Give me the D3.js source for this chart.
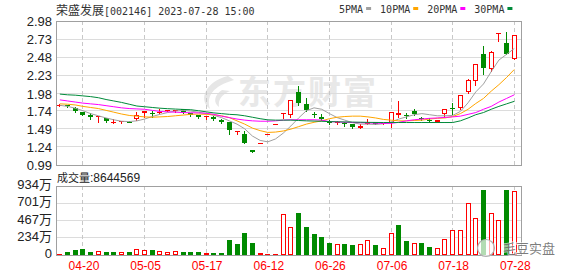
<!DOCTYPE html>
<html>
<head>
<meta charset="utf-8">
<script src="https://cdn.jsdelivr.net/npm/d3@7"></script>
<style>
  body { margin: 0; background: #fff; }
</style>
</head>
<body>
<div id="chart"></div>
<script>
// ---- data ----
var dates = ["04-17","04-18","04-19","04-20","04-21","04-24","04-25","04-26","04-27","04-28",
             "05-04","05-05","05-08","05-09","05-10","05-11","05-12","05-15","05-16","05-17",
             "05-18","05-19","05-22","05-23","05-24","05-25","06-09","06-12","06-13","06-14",
             "06-15","06-16","06-19","06-20","06-21","06-26","06-27","06-28","06-29","06-30",
             "07-03","07-04","07-05","07-06","07-07","07-10","07-11","07-12","07-13","07-14",
             "07-17","07-18","07-19","07-20","07-21","07-24","07-25","07-26","07-27","07-28"];

var openP  = [1.815,1.815,1.78,1.72,1.675,1.65,1.64,1.585,1.585,1.59,
              1.63,1.715,1.715,1.715,1.735,1.745,1.76,1.71,1.68,1.66,
              1.66,1.615,1.58,1.45,1.42,1.20,1.29,1.42,1.56,1.70,
              1.685,2.00,1.83,1.69,1.65,1.59,1.575,1.57,1.55,1.50,
              1.56,1.58,1.56,1.57,1.68,1.68,1.73,1.645,1.61,1.59,
              1.70,1.78,1.78,2.00,2.15,2.52,2.31,2.81,2.67,2.46];
var highP  = [1.835,1.82,1.785,1.725,1.71,1.665,1.645,1.625,1.60,1.595,
              1.72,1.735,1.73,1.765,1.75,1.755,1.765,1.715,1.685,1.665,
              1.665,1.62,1.59,1.465,1.46,1.20,1.29,1.42,1.56,1.715,
              1.885,2.08,1.92,1.72,1.70,1.61,1.60,1.59,1.56,1.55,
              1.63,1.585,1.575,1.725,1.88,1.715,1.77,1.66,1.64,1.61,
              1.765,1.85,1.96,2.175,2.39,2.63,2.56,2.81,2.83,2.78];
var lowP   = [1.80,1.795,1.725,1.675,1.63,1.58,1.58,1.565,1.575,1.58,
              1.61,1.66,1.65,1.715,1.73,1.72,1.715,1.67,1.645,1.625,
              1.615,1.575,1.42,1.42,1.29,1.17,1.29,1.42,1.56,1.64,
              1.66,1.82,1.74,1.65,1.61,1.56,1.55,1.525,1.50,1.495,
              1.55,1.55,1.555,1.52,1.65,1.64,1.68,1.615,1.58,1.58,
              1.66,1.70,1.77,1.985,2.09,2.25,2.29,2.70,2.52,2.45];
var closeP = [1.82,1.805,1.73,1.68,1.66,1.665,1.60,1.59,1.595,1.585,
              1.68,1.73,1.705,1.72,1.745,1.755,1.72,1.675,1.65,1.665,
              1.62,1.58,1.47,1.465,1.30,1.17,1.29,1.42,1.56,1.715,
              1.885,1.85,1.75,1.68,1.62,1.585,1.59,1.56,1.51,1.535,
              1.58,1.555,1.57,1.72,1.71,1.67,1.69,1.64,1.60,1.605,
              1.76,1.775,1.955,2.17,2.385,2.33,2.555,2.81,2.53,2.78];
// volume in 万 shares
var volume = [20,34,70,75,43,52,43,43,34,43,
              84,70,61,52,34,52,43,43,35,25,
              30,30,197,143,301,166,30,20,15,560,
              383,563,378,278,242,156,152,143,129,143,
              197,129,98,301,400,187,166,166,106,88,
              210,333,333,709,496,876,573,473,876,864.4569];

var ma5  = [1.815,1.80,1.775,1.74,1.70,1.67,1.64,1.615,1.595,1.59,
            1.60,1.625,1.66,1.69,1.715,1.735,1.745,1.735,1.72,1.70,
            1.675,1.645,1.60,1.555,1.49,1.39,1.33,1.31,1.35,1.43,
            1.53,1.64,1.74,1.78,1.76,1.70,1.645,1.61,1.575,1.555,
            1.555,1.55,1.56,1.585,1.625,1.655,1.685,1.70,1.685,1.67,
            1.67,1.675,1.73,1.85,2.00,2.11,2.28,2.44,2.52,2.60];
var ma10 = [1.835,1.83,1.82,1.80,1.785,1.77,1.745,1.72,1.695,1.675,
            1.665,1.655,1.65,1.655,1.66,1.67,1.68,1.69,1.694,1.69,
            1.684,1.67,1.645,1.60,1.555,1.50,1.465,1.44,1.445,1.46,
            1.486,1.52,1.555,1.58,1.60,1.63,1.65,1.66,1.665,1.665,
            1.655,1.64,1.62,1.61,1.60,1.60,1.605,1.61,1.625,1.635,
            1.64,1.66,1.70,1.76,1.84,1.91,2.01,2.10,2.20,2.31];
var ma20 = [1.89,1.875,1.86,1.845,1.835,1.825,1.81,1.795,1.78,1.77,
            1.765,1.76,1.745,1.73,1.725,1.72,1.715,1.712,1.71,1.705,
            1.69,1.665,1.645,1.625,1.61,1.60,1.595,1.595,1.60,1.61,
            1.615,1.615,1.615,1.615,1.61,1.59,1.585,1.58,1.578,1.575,
            1.572,1.568,1.565,1.565,1.58,1.60,1.615,1.625,1.635,1.64,
            1.648,1.655,1.665,1.69,1.715,1.76,1.80,1.86,1.91,1.96];
var ma30 = [1.97,1.96,1.955,1.945,1.935,1.92,1.895,1.875,1.855,1.83,
            1.805,1.795,1.785,1.775,1.768,1.763,1.758,1.754,1.74,1.725,
            1.71,1.70,1.69,1.684,1.67,1.65,1.63,1.614,1.61,1.61,
            1.61,1.605,1.60,1.597,1.594,1.59,1.587,1.585,1.583,1.581,
            1.579,1.578,1.577,1.577,1.577,1.577,1.577,1.577,1.577,1.577,
            1.577,1.577,1.60,1.64,1.685,1.715,1.76,1.80,1.835,1.87];

var priceTicks = [0.99,1.24,1.49,1.74,1.98,2.23,2.48,2.73,2.98];
var volTicks = [0,234,467,701,934];
var dateTicks = ["04-20","05-05","05-17","06-12","06-26","07-06","07-18","07-28"];

// ---- layout ----
var W = 578, H = 276;
var L = 56, R = 522, PT = 21, PB = 165, VT = 186, VB = 255;
var UP = "#ff0000", DOWN = "#008a00", GRID = "#dcdcdc", BORDER = "#a0a0a0";
var NUM_FONT = "'Liberation Sans', Arial, sans-serif";
var CJK_FONT = "'Noto Sans CJK SC', sans-serif";
var MONO_FONT = "'DejaVu Sans Mono', monospace";

function crisp(v) { return Math.floor(v) + 0.5; }

var svg = d3.select("#chart").append("svg")
    .attr("width", W).attr("height", H)
    .style("background", "#fff");

var x = d3.scaleLinear().domain([-0.5, dates.length]).range([L, R]);
var y = d3.scaleLinear().domain([0.99, 2.98]).range([PB, PT]);
var yv = d3.scaleLinear().domain([0, 934]).range([VB, VT]);

var data = dates.map(function (d, i) {
    return { i: i, date: d, o: openP[i], h: highP[i], l: lowP[i], c: closeP[i],
             v: volume[i], prev: i ? closeP[i - 1] : openP[i] };
});
function candleUp(d) { return d.c > d.o || (d.c === d.o && d.c >= d.prev); }
function volUp(d) { return d.i === 0 ? candleUp(d) : d.c >= d.prev; }

var tickIdx = dateTicks.map(function (t) { return dates.indexOf(t); });

// ---- watermark ----
svg.append("path")
    .attr("d", "M228,76 C207,81 197,99 210,109 C206,96 213,86 234,80 Z M222,90 C214,95 213,103 219,107 C218,100 221,95 230,91 Z")
    .attr("fill", "#e6e6e6");
svg.append("text")
    .attr("x", 238).attr("y", 104)
    .attr("font-family", CJK_FONT).attr("font-size", 33).attr("font-weight", "bold")
    .attr("letter-spacing", 2)
    .attr("fill", "#e8e8e8")
    .text("东方财富");

// ---- grid ----
var grid = svg.append("g");
grid.selectAll(".hp").data(priceTicks.slice(1, -1)).enter().append("line")
    .attr("x1", L).attr("x2", R)
    .attr("y1", function (d) { return crisp(y(d)); })
    .attr("y2", function (d) { return crisp(y(d)); })
    .attr("stroke", GRID);
grid.selectAll(".hv").data(volTicks.slice(1, -1)).enter().append("line")
    .attr("x1", L).attr("x2", R)
    .attr("y1", function (d) { return crisp(yv(d)); })
    .attr("y2", function (d) { return crisp(yv(d)); })
    .attr("stroke", GRID);
[[PT, PB], [VT, VB]].forEach(function (p) {
    grid.append("g").selectAll("line").data(tickIdx).enter().append("line")
        .attr("x1", function (d) { return crisp(x(d)); })
        .attr("x2", function (d) { return crisp(x(d)); })
        .attr("y1", p[0]).attr("y2", p[1])
        .attr("stroke", "#c8c8c8")
        .attr("stroke-dasharray", "4,3");
});

// ---- candles ----
var cg = svg.append("g");
data.forEach(function (d) {
    var xi = Math.floor(x(d.i));
    var col = candleUp(d) ? UP : DOWN;
    var top = Math.round(y(Math.max(d.o, d.c)));
    var bot = Math.round(y(Math.min(d.o, d.c)));
    // wick
    cg.append("line")
        .attr("x1", xi + 0.5).attr("x2", xi + 0.5)
        .attr("y1", Math.round(y(d.h))).attr("y2", Math.round(y(d.l)) + 1)
        .attr("stroke", col);
    if (d.c > d.o && bot - top >= 3) {
        cg.append("rect")
            .attr("x", xi - 1.5).attr("y", top + 0.5)
            .attr("width", 4).attr("height", bot - top - 1)
            .attr("fill", "#fff").attr("stroke", col);
    } else {
        cg.append("rect")
            .attr("x", xi - 2).attr("y", top)
            .attr("width", 5).attr("height", Math.max(1, bot - top))
            .attr("fill", col);
    }
});

// ---- moving averages ----
svg.append("clipPath").attr("id", "pclip").append("rect")
    .attr("x", L).attr("y", PT).attr("width", R - L).attr("height", PB - PT);
var maSeries = [
    { name: "5PMA", values: ma5, color: "#a0a0a0" },
    { name: "10PMA", values: ma10, color: "#ffa500" },
    { name: "20PMA", values: ma20, color: "#ff00ff" },
    { name: "30PMA", values: ma30, color: "#008a3a" }
];
var line = d3.line()
    .x(function (d, i) { return x(i); })
    .y(function (d) { return y(d); });
svg.append("g").attr("clip-path", "url(#pclip)")
    .selectAll("path").data(maSeries).enter().append("path")
    .attr("d", function (s) { return line(s.values); })
    .attr("fill", "none")
    .attr("stroke", function (s) { return s.color; })
    .attr("stroke-width", 1);

// ---- volume bars ----
var vg = svg.append("g");
data.forEach(function (d) {
    var xi = Math.floor(x(d.i));
    var t = Math.round(yv(d.v));
    if (volUp(d) && VB - t >= 3) {
        vg.append("rect")
            .attr("x", xi - 1.5).attr("y", t + 0.5)
            .attr("width", 4).attr("height", VB - t - 1)
            .attr("fill", "#fff").attr("stroke", UP);
    } else {
        vg.append("rect")
            .attr("x", xi - 2).attr("y", t)
            .attr("width", 5).attr("height", Math.max(1, VB - t))
            .attr("fill", volUp(d) ? UP : DOWN);
    }
});

// ---- panel borders ----
[[PT, PB], [VT, VB]].forEach(function (p) {
    svg.append("rect")
        .attr("x", L + 0.5).attr("y", p[0] + 0.5)
        .attr("width", R - L - 1).attr("height", p[1] - p[0])
        .attr("fill", "none").attr("stroke", BORDER);
});

// ---- axes ----
var yAxis = svg.append("g")
    .attr("transform", "translate(" + (L - 1) + ",0.5)")
    .call(d3.axisLeft(y).tickValues(priceTicks).tickFormat(d3.format(".2f")).tickSize(0).tickPadding(3));
var vAxis = svg.append("g")
    .attr("transform", "translate(" + (L - 1) + ",-1.5)")
    .call(d3.axisLeft(yv).tickValues(volTicks)
        .tickFormat(function (d) { return d ? d + "万" : "0"; }).tickSize(0).tickPadding(3));
var xAxis = svg.append("g")
    .attr("transform", "translate(0.5," + (VB + 3) + ")")
    .call(d3.axisBottom(x).tickValues(tickIdx)
        .tickFormat(function (i) { return dates[i]; }).tickSize(0).tickPadding(3));
[yAxis, vAxis, xAxis].forEach(function (a) { a.select(".domain").remove(); });
yAxis.selectAll("text").attr("font-family", NUM_FONT).attr("font-size", 13).attr("fill", "#222");
vAxis.selectAll("text").attr("font-family", NUM_FONT + ", 'Noto Sans CJK SC'").attr("font-size", 13).attr("fill", "#222");
xAxis.selectAll("text").attr("font-family", NUM_FONT).attr("font-size", 12).attr("fill", UP);

// ---- title ----
var title = svg.append("text").attr("x", L).attr("y", 14.5).attr("fill", "#333");
title.append("tspan").attr("font-family", CJK_FONT).attr("font-size", 12).text("荣盛发展");
title.append("tspan").attr("font-family", MONO_FONT).attr("font-size", 10).text("[002146] 2023-07-28 15:00");

// ---- legend ----
var lx = 339;
maSeries.forEach(function (s) {
    var t = svg.append("text").attr("x", lx).attr("y", 12.5)
        .attr("font-family", MONO_FONT).attr("font-size", 10).attr("fill", "#333")
        .text(s.name);
    lx += t.node().getComputedTextLength() + 3;
    svg.append("rect").attr("x", lx).attr("y", 7).attr("width", 5).attr("height", 3).attr("fill", s.color);
    lx += 5 + 9;
});

// ---- volume caption ----
var vt = svg.append("text").attr("x", L + 1).attr("y", 182).attr("fill", "#222");
vt.append("tspan").attr("font-family", CJK_FONT).attr("font-size", 11).text("成交量");
vt.append("tspan").attr("font-family", NUM_FONT).attr("font-size", 12).text(":" + Math.round(volume[volume.length - 1] * 10000));

// ---- corner watermark ----
svg.append("circle").attr("cx", 486).attr("cy", 248).attr("r", 8.5)
    .attr("fill", "#fff").attr("fill-opacity", 0.7)
    .attr("stroke", "#b0b0b0").attr("stroke-width", 1.2);
svg.append("text").attr("x", 503).attr("y", 253)
    .attr("font-family", CJK_FONT).attr("font-size", 13)
    .attr("fill", "#666").attr("fill-opacity", 0.85)
    .attr("stroke", "#fff").attr("stroke-width", 2).attr("stroke-opacity", 0.6)
    .attr("paint-order", "stroke")
    .text("毛豆实盘");
</script>
</body>
</html>
